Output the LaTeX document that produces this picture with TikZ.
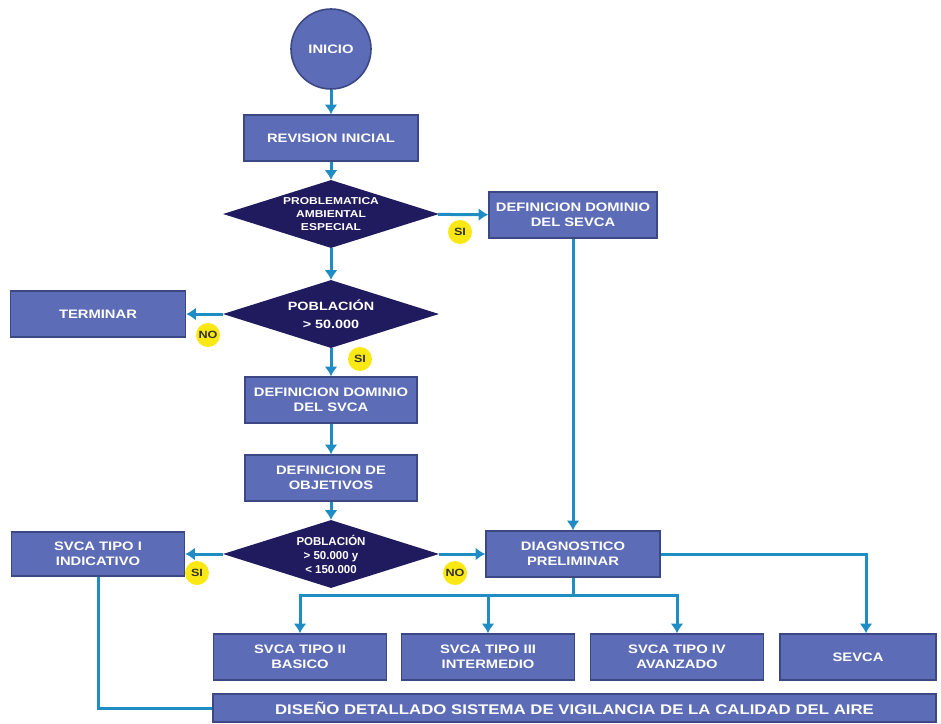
\documentclass[tikz,border=0pt]{standalone}
\usepackage{fontspec}
\setmainfont[FakeStretch=1.2]{Liberation Sans}
\newfontfamily\plainsans{Liberation Sans}
\usepackage{tikz}
\usetikzlibrary{shapes.geometric}
\usetikzlibrary{arrows.meta}
\tikzset{>={Latex[width=4.6mm,length=3.4mm]}}
\definecolor{boxblue}{RGB}{92,108,182}
\definecolor{boxedge}{RGB}{60,72,132}
\definecolor{navy}{RGB}{31,27,94}
\definecolor{flowline}{RGB}{32,140,196}
\definecolor{tagyellow}{RGB}{250,232,20}

\begin{document}
\begin{tikzpicture}[
    x = 1pt, y = -1pt,
    every node/.style = {text=white, align=center, font=\bfseries\fontsize{12.3}{15}\selectfont},
    procbox/.style = {draw=boxedge, fill=boxblue, line width=1.6pt,
        minimum width=174pt, minimum height=46pt, inner sep=0pt},
    startnode/.style = {circle, draw=boxedge, fill=boxblue, line width=1.6pt,
        minimum size=80pt, inner sep=0pt},
    decision/.style = {diamond, fill=navy, minimum width=216pt,
        minimum height=68pt, inner sep=0pt, aspect=3},
    tag/.style = {circle, fill=tagyellow, text=black!80, minimum size=24pt,
        inner sep=0pt, font=\bfseries\fontsize{10.5}{10.5}\selectfont},
    flow/.style = {draw=flowline, line width=3pt}
  ]
  \useasboundingbox (0,0) rectangle (941,723);

  \node[startnode] (inicio) at (331,49) {INICIO};
  \node[procbox] (revision) at (331,138) {REVISION INICIAL};
  \node[decision, font=\bfseries\fontsize{10}{13}\selectfont] (problema) at (331,214)
    {PROBLEMATICA\\AMBIENTAL\\ESPECIAL};
  \node[procbox, minimum width=168pt] (dominiosevca) at (573,215) {DEFINICION DOMINIO\\DEL SEVCA};
  \node[decision, font=\bfseries\fontsize{12}{18}\selectfont] (poblacion) at (331,314)
    {POBLACIÓN\\> 50.000};
  \node[procbox, minimum width=175pt] (terminar) at (98,314) {TERMINAR};
  \node[procbox, minimum width=172pt] (dominiosvca) at (331,400) {DEFINICION DOMINIO\\DEL SVCA};
  \node[procbox, minimum width=172pt] (objetivos) at (331,478) {DEFINICION DE\\OBJETIVOS};
  \node[decision, font=\plainsans\bfseries\fontsize{11.5}{14}\selectfont] (rango) at (331,554)
    {POBLACIÓN\\> 50.000 y\\< 150.000};
  \node[procbox, minimum width=173pt, minimum height=44pt] (tipoI) at (98,554) {SVCA TIPO I\\INDICATIVO};
  \node[procbox] (diagnostico) at (573,554) {DIAGNOSTICO\\PRELIMINAR};

  \node[procbox, minimum width=173pt] (tipoII) at (300,657) {SVCA TIPO II\\BASICO};
  \node[procbox, minimum width=173pt] (tipoIII) at (488,657) {SVCA TIPO III\\INTERMEDIO};
  \node[procbox, minimum width=173pt] (tipoIV) at (677,657) {SVCA TIPO IV\\AVANZADO};
  \node[procbox, minimum width=156pt] (sevca) at (858,657) {SEVCA};
  \node[procbox, minimum width=723pt, minimum height=28pt,
    font=\bfseries\fontsize{14}{14}\selectfont] (diseno) at (574.5,708)
    {DISEÑO DETALLADO SISTEMA DE VIGILANCIA DE LA CALIDAD DEL AIRE};

  % etiquetas SI / NO
  \node[tag] (siA) at (460,232) {SI};
  \node[tag] (noA) at (208,335) {NO};
  \node[tag] (siB) at (360,359) {SI};
  \node[tag] (siC) at (197,573) {SI};
  \node[tag] (noB) at (455,573) {NO};

  \draw[flow, ->] (inicio) -- (revision);
  \draw[flow, ->] (revision) -- (problema);
  \draw[flow, ->] (problema) -- (dominiosevca);
  \draw[flow, ->] (problema) -- (poblacion);
  \draw[flow, ->] (poblacion) -- (terminar);
  \draw[flow, ->] (poblacion) -- (dominiosvca);
  \draw[flow, ->] (dominiosvca) -- (objetivos);
  \draw[flow, ->] (objetivos) -- (rango);
  \draw[flow, ->] (rango) -- (tipoI);
  \draw[flow, ->] (rango) -- (diagnostico);
  \draw[flow, ->] (dominiosevca) -- (diagnostico);

  \coordinate (reparto) at (573,595);
  \draw[flow] (diagnostico) -- (reparto);
  \draw[flow, ->] (reparto) -| (tipoII);
  \draw[flow, ->] (reparto) -| (tipoIII);
  \draw[flow, ->] (reparto) -| (tipoIV);
  \draw[flow, ->] (diagnostico) -| ([xshift=8pt]sevca.north);
  \draw[flow] (tipoI) |- (diseno);
\end{tikzpicture}
\end{document}
